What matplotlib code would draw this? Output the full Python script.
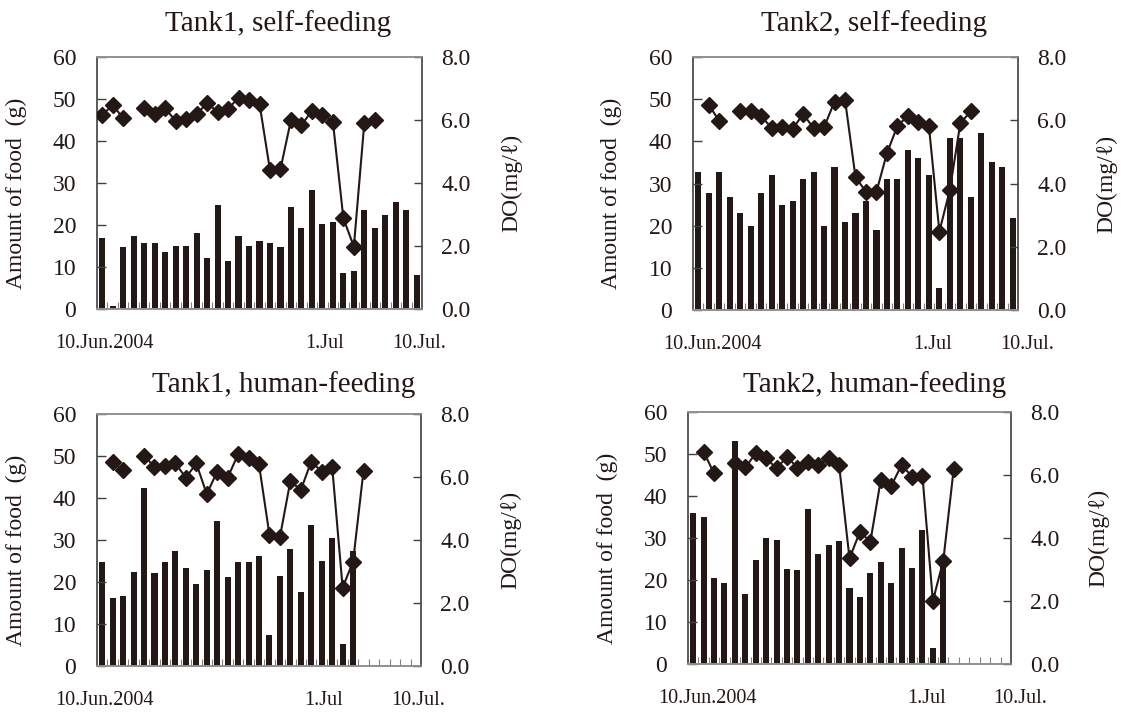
import numpy as np
import matplotlib
matplotlib.use("Agg")
import matplotlib.pyplot as plt
from matplotlib.transforms import blended_transform_factory

plt.rcParams["font.family"] = ["Liberation Serif", "DejaVu Serif"]

NAN = np.nan
INK = "#231815"
DAYS = list(range(31))  # 10 Jun .. 10 Jul 2004
DATE_LABELS = ["10.Jun.2004", "1.Jul", "10.Jul."]
DATE_INDEX = [0, 21, 30]

TITLES = ["Tank1, self-feeding", "Tank2, self-feeding",
          "Tank1, human-feeding", "Tank2, human-feeding"]

# amount of food (g)
food_t1_self = [16.8, 0.8, 14.7, 17.5, 15.6, 15.6, 13.5, 15.0, 15.0, 18.2, 12.1, 24.8, 11.5, 17.5, 15.0, 16.3,
                15.6, 14.7, 24.2, 19.4, 28.3, 20.2, 20.7, 8.6, 9.0, 23.6, 19.4, 22.3, 25.5, 23.6, 8.0]
food_t2_self = [32.8, 27.8, 32.8, 26.9, 23.1, 19.9, 27.8, 31.9, 25.0, 25.9, 31.0, 32.8, 19.9, 33.8, 20.9, 23.1,
                25.9, 19.0, 31.0, 31.0, 37.9, 36.0, 31.9, 5.1, 40.8, 40.8, 26.9, 42.0, 35.1, 33.8, 21.7]
food_t1_human = [24.7, 16.1, 16.7, 22.5, 42.5, 22.1, 24.7, 27.5, 23.4, 19.6, 22.8, 34.5, 21.2, 24.7, 24.7, 26.3,
                 7.5, 21.5, 27.9, 17.7, 33.6, 25.0, 30.4, 5.3, 27.5, NAN, NAN, NAN, NAN, NAN, NAN]
food_t2_human = [35.9, 34.9, 20.4, 19.4, 53.1, 16.6, 24.8, 29.9, 29.6, 22.6, 22.3, 36.9, 26.1, 28.3, 29.3, 18.2,
                 16.0, 21.6, 24.2, 19.4, 27.7, 22.9, 31.8, 3.9, 25.0, NAN, NAN, NAN, NAN, NAN, NAN]

# dissolved oxygen (mg/l)
do_t1_self = [6.16, 6.48, 6.05, NAN, 6.37, 6.19, 6.37, 5.97, 6.03, 6.19, 6.53, 6.26, 6.35, 6.71, 6.63, 6.52,
              4.41, 4.44, 6.00, 5.84, 6.29, 6.16, 5.95, 2.88, 1.98, 5.92, 6.00, NAN, NAN, NAN, NAN]
do_t2_self = [NAN, 6.49, 5.98, NAN, 6.28, 6.28, 6.14, 5.75, 5.80, 5.72, 6.20, 5.75, 5.78, 6.59, 6.65, 4.20,
              3.74, 3.74, 4.96, 5.82, 6.14, 5.96, 5.82, 2.48, 3.80, 5.91, 6.28, NAN, NAN, NAN, NAN]
do_t1_human = [NAN, 6.47, 6.22, NAN, 6.67, 6.33, 6.36, 6.43, 5.98, 6.43, 5.46, 6.17, 5.98, 6.72, 6.59, 6.40,
               4.16, 4.09, 5.87, 5.59, 6.49, 6.17, 6.33, 2.49, 3.31, 6.20, NAN, NAN, NAN, NAN, NAN]
do_t2_human = [NAN, 6.74, 6.05, NAN, 6.37, 6.24, 6.69, 6.53, 6.21, 6.58, 6.23, 6.42, 6.32, 6.53, 6.32, 3.35,
               4.20, 3.88, 5.84, 5.65, 6.32, 5.95, 5.98, 2.00, 3.28, 6.19, NAN, NAN, NAN, NAN, NAN]


def plot_panel(fig, rect, food, do, title, title_xy, label_shift, ylabel_x, do_label_x):
    ax = fig.add_axes(rect)
    ax.bar(DAYS, food, width=0.58, color=INK, zorder=1)
    ax.set_xlim(-0.5, 30.5)
    ax.set_ylim(0, 60)
    ax.set_yticks(range(0, 61, 10))
    ax.set_xticks(np.arange(0.5, 30, 1))
    ax.set_xticklabels([])
    ax.tick_params(axis="x", direction="in", length=5, width=0.8, color="#808080")
    ax.tick_params(axis="y", direction="in", length=6.5, width=1, color="#404040",
                   labelsize=17, pad=15, labelcolor=INK)
    ax.set_ylabel("Amount of food  (g)", fontsize=17, color=INK)
    ax.yaxis.set_label_coords(ylabel_x, 0.46)

    ax2 = ax.twinx()
    ax2.plot(DAYS, do, marker="D", markersize=8, color=INK, linewidth=1.5, zorder=3)
    ax2.set_ylim(0, 8)
    ax2.set_yticks(range(0, 9, 2))
    ax2.set_yticklabels([f"{v:.1f}" for v in range(0, 9, 2)])
    ax2.tick_params(axis="y", direction="in", length=6, width=1, color="#404040",
                    labelsize=17, pad=14, labelcolor=INK)
    ax2.set_ylabel("DO(mg/ℓ)", fontsize=17, color=INK)
    ax2.yaxis.set_label_coords(do_label_x, 0.5)

    for a in (ax, ax2):
        for side in ("top", "bottom"):
            a.spines[side].set_color("#909090")
            a.spines[side].set_linewidth(1.2)
    ax.spines["left"].set_color("#404040")
    ax.spines["left"].set_linewidth(1.2)
    ax.spines["right"].set_visible(False)
    ax2.spines["left"].set_visible(False)
    ax2.spines["right"].set_color("#404040")
    ax2.spines["right"].set_linewidth(1.2)

    trans = blended_transform_factory(ax.transData, ax.transAxes)
    for label, idx in zip(DATE_LABELS, DATE_INDEX):
        ax.text(idx + label_shift, -0.135, label, transform=trans, ha="center", va="center",
                fontsize=14.5, color=INK)

    fig.text(title_xy[0], title_xy[1], title, ha="center", va="center", fontsize=21, color=INK)
    return ax


def make_figure():
    fig = plt.figure(figsize=(11.21, 7.17), dpi=100)
    W, H = 1121, 717

    def rect(left, right, top, bottom):
        return [left / W, 1 - bottom / H, (right - left) / W, (bottom - top) / H]

    plot_panel(fig, rect(97, 422, 57, 309), food_t1_self, do_t1_self, TITLES[0],
               (278 / W, 1 - 24 / H), 0.2, -0.215, 1.245)
    plot_panel(fig, rect(693, 1018, 57, 310), food_t2_self, do_t2_self, TITLES[1],
               (874 / W, 1 - 24 / H), 1.4, -0.218, 1.24)
    plot_panel(fig, rect(97, 421, 414, 666), food_t1_human, do_t1_human, TITLES[2],
               (284 / W, 1 - 385 / H), 0.2, -0.215, 1.245)
    plot_panel(fig, rect(688, 1011, 412, 664), food_t2_human, do_t2_human, TITLES[3],
               (875 / W, 1 - 385 / H), 1.4, -0.218, 1.24)

    fig.savefig("out.png", dpi=100)


if __name__ == "__main__":
    make_figure()
